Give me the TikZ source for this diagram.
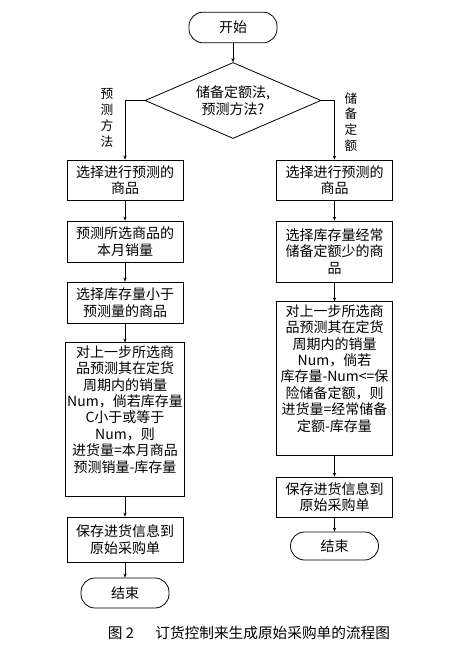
\documentclass[tikz,border=0pt]{standalone}
\usepackage{fontspec}
\setmainfont{Noto Sans CJK SC}
\usetikzlibrary{arrows.meta, positioning, shapes.geometric}

\begin{document}
\begin{tikzpicture}[x=0.75pt, y=-0.75pt,
    font=\fontsize{10.5pt}{12.3pt}\selectfont,
    proc/.style={draw, line width=0.6pt, minimum width=87pt, minimum height=#1, align=center, inner xsep=1pt, inner ysep=2pt},
    proc/.default=30pt,
    term/.style={draw, line width=0.6pt, rounded corners=10.5pt, minimum width=66pt, minimum height=#1},
    term/.default=23pt,
    decide/.style={draw, line width=0.6pt, diamond, aspect=2.3, minimum width=132pt, minimum height=57pt, inner sep=0pt, align=center},
    flow/.style={line width=0.6pt, -{Stealth[length=3pt, width=2.5pt]}},
    side/.style={font=\fontsize{9.5pt}{11.8pt}\selectfont, align=center},
]
    \useasboundingbox (0,0) rectangle (459,652);

    \node[term] (start) at (233, 27.5) {开始};
    \node[decide] (dec) at (233, 100.5) {储备定额法,\\预测方法?};

    % left branch
    \node[proc] (l1) at (125, 180) {选择进行预测的\\商品};
    \node[proc=30.75pt] (l2) at (125, 241.5) {预测所选商品的\\本月销量};
    \node[proc=30.75pt] (l3) at (125, 302.5) {选择库存量小于\\预测量的商品};
    \node[proc=114.75pt] (l4) at (125, 419.5) {对上一步所选商\\品预测其在定货\\周期内的销量\\Num，倘若库存量\\C小于或等于\\Num，则\\进货量=本月商品\\预测销量-库存量\\ \strut};
    \node[proc=33.75pt] (l5) at (125, 539.5) {保存进货信息到\\原始采购单};
    \node[term=22.5pt] (lend) at (125, 593) {结束};

    % right branch
    \node[proc] (r1) at (334.5, 180) {选择进行预测的\\商品};
    \node[proc=45.75pt] (r2) at (334.5, 251.5) {选择库存量经常\\储备定额少的商\\品};
    \node[proc=114.75pt] (r3) at (334.5, 378.5) {对上一步所选商\\品预测其在定货\\周期内的销量\\Num，倘若\\库存量-Num<=保\\险储备定额，则\\进货量=经常储备\\定额-库存量\\ \strut};
    \node[proc] (r4) at (334.5, 497) {保存进货信息到\\原始采购单};
    \node[term=21pt] (rend) at (334.5, 546) {结束};

    \node[side] (lmeth) at (107, 118) {预\\测\\方\\法};
    \node[side] (rmeth) at (351, 122) {储\\备\\定\\额};

    \draw[flow] (start) -- (dec);
    \draw[flow] (dec.west) -| (l1.north);
    \draw[flow] (dec.east) -| (r1.north);
    \draw[flow] (l1) -- (l2);
    \draw[flow] (l2) -- (l3);
    \draw[flow] (l3) -- (l4);
    \draw[flow] (l4) -- (l5);
    \draw[flow] (l5) -- (lend);
    \draw[flow] (r1) -- (r2);
    \draw[flow] (r2) -- (r3);
    \draw[flow] (r3) -- (r4);
    \draw[flow] (r4) -- (rend);

    \node[font=\fontsize{11pt}{13pt}\selectfont] (cap) at (249, 633) {图 2\hspace{16pt}订货控制来生成原始采购单的流程图};
\end{tikzpicture}
\end{document}
